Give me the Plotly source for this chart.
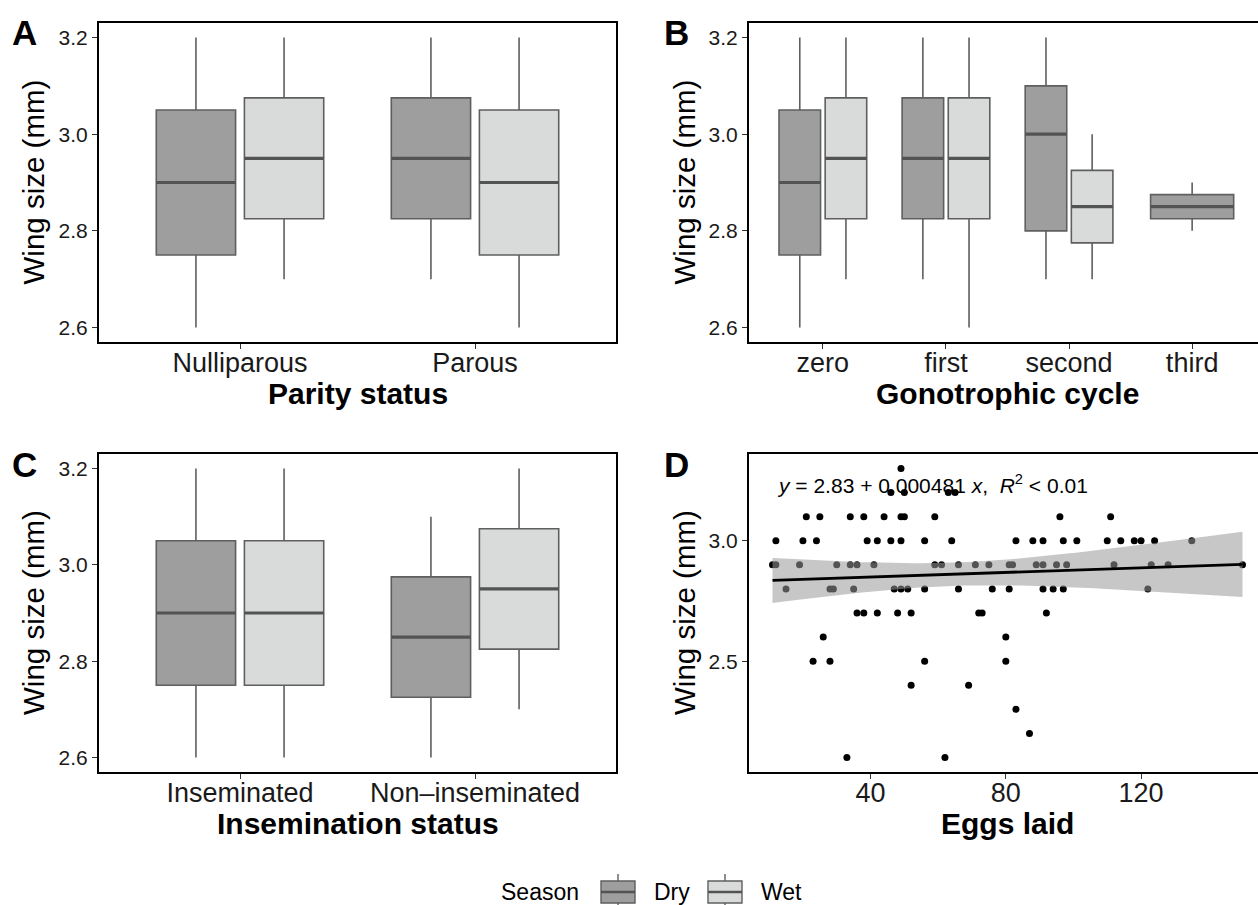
import numpy as np
import plotly.graph_objects as go

W, H = 1258, 905
FONT = "Liberation Sans, Arial, Helvetica, sans-serif"

# ---------------- data ----------------
# box stats order: (lower whisker, Q1, median, Q3, upper whisker)
season_names = ["Dry", "Wet"]

parity_cats = ["Nulliparous", "Parous"]
parity_dry = [(2.6, 2.75, 2.9, 3.05, 3.2), (2.7, 2.825, 2.95, 3.075, 3.2)]
parity_wet = [(2.7, 2.825, 2.95, 3.075, 3.2), (2.6, 2.75, 2.9, 3.05, 3.2)]

gono_cats = ["zero", "first", "second", "third"]
gono_dry = [(2.6, 2.75, 2.9, 3.05, 3.2), (2.7, 2.825, 2.95, 3.075, 3.2),
            (2.7, 2.8, 3.0, 3.1, 3.2), (2.8, 2.825, 2.85, 2.875, 2.9)]
gono_wet = [(2.7, 2.825, 2.95, 3.075, 3.2), (2.6, 2.825, 2.95, 3.075, 3.2),
            (2.7, 2.775, 2.85, 2.925, 3.0), None]

insem_cats = ["Inseminated", "Non\u2013inseminated"]
insem_dry = [(2.6, 2.75, 2.9, 3.05, 3.2), (2.6, 2.725, 2.85, 2.975, 3.1)]
insem_wet = [(2.6, 2.75, 2.9, 3.05, 3.2), (2.7, 2.825, 2.95, 3.075, 3.2)]

box_ticks = [2.6, 2.8, 3.0, 3.2]

# panel D: eggs laid vs wing size
eggs = [49,
        46, 50, 63, 65,
        21, 25, 34, 38, 44, 49, 50, 59, 96, 111,
        12, 20, 24, 39, 42, 46, 49, 56, 64, 83, 88, 91, 97, 101, 110, 114, 118, 120, 124, 135,
        11, 12, 19, 30, 34, 36, 41, 59, 61, 66, 71, 75, 81, 82, 89, 91, 95, 98, 112, 123, 128, 150,
        15, 28, 29, 35, 47, 49, 51, 56, 66, 76, 81, 91, 94, 97, 122,
        36, 38, 42, 48, 52, 72, 73, 92,
        26, 80,
        23, 28, 56, 80,
        52, 69,
        83,
        87,
        33, 62]
wing = [3.3,
        3.2, 3.2, 3.2, 3.2,
        3.1, 3.1, 3.1, 3.1, 3.1, 3.1, 3.1, 3.1, 3.1, 3.1,
        3.0, 3.0, 3.0, 3.0, 3.0, 3.0, 3.0, 3.0, 3.0, 3.0, 3.0, 3.0, 3.0, 3.0, 3.0, 3.0, 3.0, 3.0, 3.0, 3.0,
        2.9, 2.9, 2.9, 2.9, 2.9, 2.9, 2.9, 2.9, 2.9, 2.9, 2.9, 2.9, 2.9, 2.9, 2.9, 2.9, 2.9, 2.9, 2.9, 2.9, 2.9, 2.9,
        2.8, 2.8, 2.8, 2.8, 2.8, 2.8, 2.8, 2.8, 2.8, 2.8, 2.8, 2.8, 2.8, 2.8, 2.8,
        2.7, 2.7, 2.7, 2.7, 2.7, 2.7, 2.7, 2.7,
        2.6, 2.6,
        2.5, 2.5, 2.5, 2.5,
        2.4, 2.4,
        2.3,
        2.2,
        2.1, 2.1]
fit_intercept = 2.83      # from the printed equation
fit_slope = 0.000481
eq_label = "<i>y</i> = 2.83 + 0.000481 <i>x</i>,  <i>R</i><sup>2</sup> < 0.01"
eggs_ticks = [40, 80, 120]
wing_ticks_d = [2.5, 3.0]

# ---------------- styling ----------------
fill = {"Dry": "#9E9E9E", "Wet": "#D9DBDA"}
OUTLINE = "#5F5F5F"
MEDIAN = "#535353"
DODGE = 0.75
PAD = 0.1


def px(x):
    return x / W


def py(y):
    return 1 - y / H


fig = go.Figure()


def add_box_panel(xa, ya, dry, wet):
    n = len(dry)
    singles = []
    paired = {"Dry": [], "Wet": []}
    for i in range(n):
        c = i + 1
        d, w = dry[i], wet[i]
        if d is not None and w is not None:
            paired["Dry"].append((c - DODGE / 4, d))
            paired["Wet"].append((c + DODGE / 4, w))
        else:
            s = d if d is not None else w
            singles.append(("Dry" if d is not None else "Wet", c, s))
    traces = []
    for season in season_names:
        items = paired[season]
        if items:
            traces.append((season, [p for p, _ in items], [s for _, s in items], DODGE / 2 * (1 - PAD)))
    for season, c, s in singles:
        traces.append((season, [c], [s], DODGE * (1 - PAD)))
    for season, pos, stats, width in traces:
        fig.add_trace(go.Box(
            x=pos, lowerfence=[s[0] for s in stats], q1=[s[1] for s in stats],
            median=[s[2] for s in stats], q3=[s[3] for s in stats],
            upperfence=[s[4] for s in stats], orientation="v",
            width=width, whiskerwidth=0, fillcolor=fill[season],
            line=dict(color=OUTLINE, width=1.6), boxpoints=False,
            xaxis=xa, yaxis=ya, showlegend=False, hoverinfo="skip"))
        mx, my = [], []
        for p, s in zip(pos, stats):
            mx += [p - width / 2, p + width / 2, None]
            my += [s[2], s[2], None]
        fig.add_trace(go.Scatter(x=mx, y=my, mode="lines",
                                 line=dict(color=MEDIAN, width=3.2),
                                 xaxis=xa, yaxis=ya, showlegend=False, hoverinfo="skip"))


add_box_panel("x", "y", parity_dry, parity_wet)
add_box_panel("x2", "y2", gono_dry, gono_wet)
add_box_panel("x3", "y3", insem_dry, insem_wet)

# panel D: points, CI ribbon (drawn over points), fit line
ex = np.array(eggs, dtype=float)
wy = np.array(wing, dtype=float)
n = len(ex)
resid = wy - (fit_intercept + fit_slope * ex)
s_err = np.sqrt(np.sum(resid ** 2) / (n - 2))
xbar = ex.mean()
sxx = np.sum((ex - xbar) ** 2)
T_CRIT = 1.986
xg = np.linspace(ex.min(), ex.max(), 80)
yg = fit_intercept + fit_slope * xg
half = T_CRIT * s_err * np.sqrt(1 / n + (xg - xbar) ** 2 / sxx)

fig.add_trace(go.Scatter(x=eggs, y=wing, mode="markers",
                         marker=dict(color="black", size=7),
                         xaxis="x4", yaxis="y4", showlegend=False, hoverinfo="skip"))
fig.add_trace(go.Scatter(x=np.concatenate([xg, xg[::-1]]),
                         y=np.concatenate([yg + half, (yg - half)[::-1]]),
                         fill="toself", fillcolor="rgba(153,153,153,0.55)",
                         line=dict(width=0), mode="lines",
                         xaxis="x4", yaxis="y4", showlegend=False, hoverinfo="skip"))
fig.add_trace(go.Scatter(x=xg, y=yg, mode="lines", line=dict(color="black", width=2.8),
                         xaxis="x4", yaxis="y4", showlegend=False, hoverinfo="skip"))

# ---------------- axes ----------------
LEFT_A, RIGHT_A = 99, 616
LEFT_B = 749
TOP1, BOT1 = 23, 342
TOP2, BOT2 = 454, 772
PANEL_W = RIGHT_A - LEFT_A  # full width of right panels (clipped at the figure edge)

box_range = [2.57, 3.23]

common_x = dict(showline=True, linecolor="black", linewidth=2, showgrid=False, zeroline=False,
                ticks="outside", ticklen=5, tickwidth=1, tickcolor="#333333",
                ticklabelstandoff=-9,
                tickfont=dict(family=FONT, size=27, color="#1A1A1A"))
common_y = dict(showline=True, linecolor="black", linewidth=2, showgrid=False, zeroline=False,
                ticks="outside", ticklen=5, tickwidth=1, tickcolor="#333333",
                tickfont=dict(family=FONT, size=21, color="#1A1A1A"), tickformat=".1f")


def clipped_right(lo, hi):
    # axis spans PANEL_W px; only part up to the figure edge is visible
    vis = W - LEFT_B
    return [lo, lo + (hi - lo) * vis / PANEL_W]


fig.update_layout(
    xaxis=dict(common_x, domain=[px(LEFT_A), px(RIGHT_A)], range=[0.4, len(parity_cats) + 0.6],
               tickvals=list(range(1, len(parity_cats) + 1)), ticktext=parity_cats,
               mirror=True, anchor="y"),
    yaxis=dict(common_y, domain=[py(BOT1), py(TOP1)], range=box_range, tickvals=box_ticks,
               mirror=True, anchor="x"),
    xaxis2=dict(common_x, domain=[px(LEFT_B), 1.0],
                range=clipped_right(0.4, len(gono_cats) + 0.6),
                tickvals=list(range(1, len(gono_cats) + 1)), ticktext=gono_cats,
                mirror=True, anchor="y2"),
    yaxis2=dict(common_y, domain=[py(BOT1), py(TOP1)], range=box_range, tickvals=box_ticks,
                mirror=False, anchor="x2"),
    xaxis3=dict(common_x, domain=[px(LEFT_A), px(RIGHT_A)], range=[0.4, len(insem_cats) + 0.6],
                tickvals=list(range(1, len(insem_cats) + 1)), ticktext=insem_cats,
                mirror=True, anchor="y3"),
    yaxis3=dict(common_y, domain=[py(BOT2), py(TOP2)], range=box_range, tickvals=box_ticks,
                mirror=True, anchor="x3"),
    xaxis4=dict(common_x, domain=[px(LEFT_B), 1.0],
                range=clipped_right(min(eggs) - 0.05 * (max(eggs) - min(eggs)),
                                    max(eggs) + 0.05 * (max(eggs) - min(eggs))),
                tickvals=eggs_ticks, mirror=True, anchor="y4"),
    yaxis4=dict(common_y, domain=[py(BOT2), py(TOP2)],
                range=[min(wing) - 0.05 * (max(wing) - min(wing)),
                       max(wing) + 0.05 * (max(wing) - min(wing))],
                tickvals=wing_ticks_d, mirror=False, anchor="x4"),
    boxmode="overlay",
    width=W, height=H, autosize=False,
    margin=dict(l=0, r=0, t=0, b=0),
    paper_bgcolor="white", plot_bgcolor="white",
    showlegend=False,
    font=dict(family=FONT, color="black"),
)

ann = []
# panel letters
for letter, x, y in [("A", 10, 33), ("B", 662, 33), ("C", 10, 464), ("D", 662, 464)]:
    ann.append(dict(text=f"<b>{letter}</b>", x=px(x), y=py(y), xref="paper", yref="paper",
                    xanchor="left", yanchor="middle", showarrow=False,
                    font=dict(family=FONT, size=35, color="black")))
# y titles
for x, top, bot in [(33, TOP1, BOT1), (684, TOP1, BOT1), (33, TOP2, BOT2), (684, TOP2, BOT2)]:
    ann.append(dict(text="Wing size (mm)", x=px(x), y=py((top + bot) / 2), xref="paper", yref="paper",
                    textangle=-90, xanchor="center", yanchor="middle", showarrow=False,
                    font=dict(family=FONT, size=29.5, color="black")))
# x titles
for text, x, y in [("Parity status", (LEFT_A + RIGHT_A) / 2, 393),
                   ("Gonotrophic cycle", LEFT_B + PANEL_W / 2, 393),
                   ("Insemination status", (LEFT_A + RIGHT_A) / 2, 823),
                   ("Eggs laid", LEFT_B + PANEL_W / 2, 823)]:
    ann.append(dict(text=f"<b>{text}</b>", x=px(x), y=py(y), xref="paper", yref="paper",
                    xanchor="center", yanchor="middle", showarrow=False,
                    font=dict(family=FONT, size=30, color="black")))
# regression equation
ann.append(dict(text=eq_label, x=px(775), y=py(484), xref="paper", yref="paper",
                xanchor="left", yanchor="middle", showarrow=False,
                font=dict(family=FONT, size=21, color="black")))

# legend (drawn manually to mimic ggplot keys)
shapes = []
LEG_Y0, LEG_Y1 = 881, 903
key_x = {"Dry": 601, "Wet": 708}
KEY_W = 34
for season in season_names:
    x0 = key_x[season]
    xc = x0 + KEY_W / 2
    shapes.append(dict(type="line", xref="paper", yref="paper", x0=px(xc), x1=px(xc),
                       y0=py(874), y1=py(LEG_Y0), line=dict(color=OUTLINE, width=1.4)))
    shapes.append(dict(type="line", xref="paper", yref="paper", x0=px(xc), x1=px(xc),
                       y0=py(LEG_Y1), y1=py(910), line=dict(color=OUTLINE, width=1.4)))
    shapes.append(dict(type="rect", xref="paper", yref="paper", x0=px(x0), x1=px(x0 + KEY_W),
                       y0=py(LEG_Y1), y1=py(LEG_Y0), fillcolor=fill[season],
                       line=dict(color=OUTLINE, width=1.4)))
    shapes.append(dict(type="line", xref="paper", yref="paper", x0=px(x0), x1=px(x0 + KEY_W),
                       y0=py((LEG_Y0 + LEG_Y1) / 2), y1=py((LEG_Y0 + LEG_Y1) / 2),
                       line=dict(color=MEDIAN, width=2.4)))
    ann.append(dict(text=season, x=px(x0 + KEY_W + 17), y=py(892), xref="paper", yref="paper",
                    xanchor="left", yanchor="middle", showarrow=False,
                    font=dict(family=FONT, size=23, color="black")))
ann.append(dict(text="Season", x=px(581), y=py(892), xref="paper", yref="paper",
                xanchor="right", yanchor="middle", showarrow=False,
                font=dict(family=FONT, size=23, color="black")))

fig.update_layout(annotations=ann, shapes=shapes)

fig.write_html("out.html", config={"displayModeBar": False},
               post_script="document.body.style.margin='0';")
